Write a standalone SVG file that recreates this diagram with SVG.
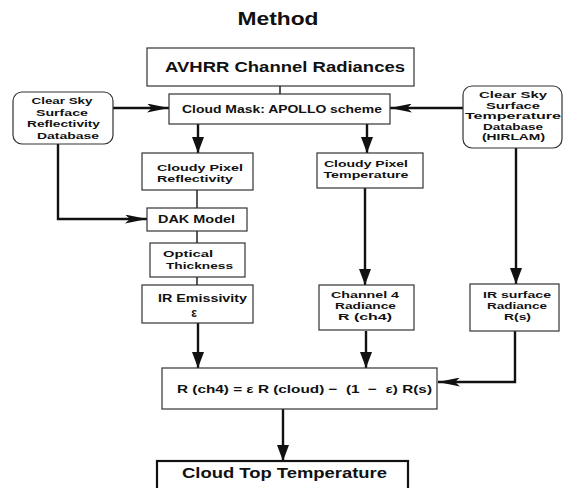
<svg xmlns="http://www.w3.org/2000/svg" width="564" height="488" viewBox="0 0 564 488">
  <defs>
    <style>
      text { font-family: "Liberation Sans", Arial, sans-serif; font-weight: bold; fill: #111; }
      .c { text-anchor: middle; }
      .box { fill: #fff; stroke: #333; stroke-width: 1.2; }
      .thick { fill: #fff; stroke: #111; stroke-width: 2.2; }
      .s9 { font-size: 9px; }
      .s10 { font-size: 9.5px; }
      .s11 { font-size: 11px; }
      .wire { fill: none; stroke: #111; stroke-width: 2.4; }
      .thin { fill: none; stroke: #222; stroke-width: 1.5; }
      .arr-v { marker-end: url(#head-v); }
      .arr-h { marker-end: url(#head-h); }
    </style>
    <!-- broad head for the vertical flow arrows -->
    <marker id="head-v" markerUnits="userSpaceOnUse" markerWidth="17" markerHeight="12" refX="16" refY="6" orient="auto">
      <path d="M0,0 L16,6 L0,12 Z" fill="#111"/>
    </marker>
    <!-- slender head for the side inputs -->
    <marker id="head-h" markerUnits="userSpaceOnUse" markerWidth="23" markerHeight="9" refX="22" refY="4.5" orient="auto">
      <path d="M0,0 L22,4.5 L0,9 L5,4.5 Z" fill="#111"/>
    </marker>
  </defs>

  <rect width="564" height="488" fill="#fff"/>

  <text x="278" y="25" class="c" font-size="18" textLength="81" lengthAdjust="spacingAndGlyphs">Method</text>

  <g id="connectors">
    <line x1="280" y1="86" x2="280" y2="94" class="thin"/>
    <line x1="113" y1="108" x2="169" y2="108" class="wire arr-h" stroke-width="2"/>
    <line x1="463" y1="108" x2="390" y2="108" class="wire arr-h" stroke-width="2"/>
    <line x1="198" y1="124" x2="198" y2="153" class="wire arr-v"/>
    <line x1="367" y1="124" x2="367" y2="153" class="wire arr-v"/>
    <line x1="197" y1="190" x2="197" y2="208" class="thin"/>
    <path d="M58,144 V219 H147" class="wire arr-h"/>
    <line x1="197" y1="231" x2="197" y2="243" class="thin"/>
    <line x1="197" y1="277" x2="197" y2="285" class="thin"/>
    <line x1="198" y1="323" x2="198" y2="368" class="wire arr-v"/>
    <line x1="365" y1="188" x2="365" y2="285" class="wire arr-v"/>
    <line x1="516" y1="148" x2="516" y2="284" class="wire arr-v"/>
    <line x1="366" y1="331" x2="366" y2="368" class="wire arr-v"/>
    <path d="M515,331 V382 H438" class="wire arr-h"/>
    <line x1="283" y1="409" x2="283" y2="461" class="wire arr-v"/>
  </g>

  <g id="avhrr">
    <rect x="147" y="48" width="267" height="38" class="box"/>
    <text x="285" y="72" class="c" font-size="14.5" textLength="240" lengthAdjust="spacingAndGlyphs">AVHRR Channel Radiances</text>
  </g>

  <g id="cloud-mask">
    <rect x="169" y="94" width="221" height="30" class="box"/>
    <text x="282" y="113" class="c s11" textLength="200" lengthAdjust="spacingAndGlyphs">Cloud Mask: APOLLO scheme</text>
  </g>

  <g id="reflectivity-db">
    <rect x="13" y="92" width="100" height="52" rx="9" class="box"/>
    <text x="62" y="104" class="c s9" textLength="61" lengthAdjust="spacingAndGlyphs">Clear Sky</text>
    <text x="62" y="115.5" class="c s9" textLength="52" lengthAdjust="spacingAndGlyphs">Surface</text>
    <text x="63.5" y="127" class="c s9" textLength="73" lengthAdjust="spacingAndGlyphs">Reflectivity</text>
    <text x="68" y="138.5" class="c s9" textLength="62" lengthAdjust="spacingAndGlyphs">Database</text>
  </g>

  <g id="temperature-db">
    <rect x="463" y="86" width="99" height="62" rx="9" class="box"/>
    <text x="513" y="98" class="c s9" textLength="68" lengthAdjust="spacingAndGlyphs">Clear Sky</text>
    <text x="513" y="108.5" class="c s9" textLength="54" lengthAdjust="spacingAndGlyphs">Surface</text>
    <text x="513" y="119" class="c s9" textLength="96" lengthAdjust="spacingAndGlyphs">Temperature</text>
    <text x="513" y="129.5" class="c s9" textLength="60" lengthAdjust="spacingAndGlyphs">Database</text>
    <text x="513.5" y="140" class="c s9" textLength="63" lengthAdjust="spacingAndGlyphs">(HIRLAM)</text>
  </g>

  <g id="cloudy-reflectivity">
    <rect x="142" y="153" width="111" height="37" class="box"/>
    <text x="200" y="171" class="c s10" textLength="86" lengthAdjust="spacingAndGlyphs">Cloudy Pixel</text>
    <text x="195" y="182" class="c s10" textLength="76" lengthAdjust="spacingAndGlyphs">Reflectivity</text>
  </g>

  <g id="cloudy-temperature">
    <rect x="317" y="153" width="106" height="35" class="box"/>
    <text x="366" y="167" class="c s10" textLength="84" lengthAdjust="spacingAndGlyphs">Cloudy Pixel</text>
    <text x="366" y="178" class="c s10" textLength="85" lengthAdjust="spacingAndGlyphs">Temperature</text>
  </g>

  <g id="dak-model">
    <rect x="147" y="208" width="100" height="23" class="box"/>
    <text x="196.5" y="223" class="c s11" textLength="77" lengthAdjust="spacingAndGlyphs">DAK Model</text>
  </g>

  <g id="optical-thickness">
    <rect x="150" y="243" width="95" height="34" class="box"/>
    <text x="188" y="257" class="c s10" textLength="50" lengthAdjust="spacingAndGlyphs">Optical</text>
    <text x="199.5" y="269" class="c s10" textLength="67" lengthAdjust="spacingAndGlyphs">Thickness</text>
  </g>

  <g id="ir-emissivity">
    <rect x="142" y="285" width="111" height="38" class="box"/>
    <text x="202.5" y="302" class="c s11" textLength="89" lengthAdjust="spacingAndGlyphs">IR Emissivity</text>
    <text x="194" y="317" class="c" font-size="12" font-weight="normal">ε</text>
  </g>

  <g id="channel4-radiance">
    <rect x="319" y="285" width="95" height="45" class="box"/>
    <text x="365" y="298" class="c s10" textLength="68" lengthAdjust="spacingAndGlyphs">Channel 4</text>
    <text x="365.5" y="309" class="c s10" textLength="61" lengthAdjust="spacingAndGlyphs">Radiance</text>
    <text x="365" y="320" class="c s10" textLength="54" lengthAdjust="spacingAndGlyphs">R (ch4)</text>
  </g>

  <g id="surface-radiance">
    <rect x="470" y="284" width="89" height="47" class="box"/>
    <text x="517" y="298" class="c s10" textLength="68" lengthAdjust="spacingAndGlyphs">IR surface</text>
    <text x="517" y="309" class="c s10" textLength="60" lengthAdjust="spacingAndGlyphs">Radiance</text>
    <text x="517.5" y="320" class="c s10" textLength="27" lengthAdjust="spacingAndGlyphs">R(s)</text>
  </g>

  <g id="radiance-equation">
    <rect x="162" y="368" width="275" height="41" class="box"/>
    <text x="177" y="393" font-size="11.5" textLength="255" lengthAdjust="spacingAndGlyphs" xml:space="preserve">R (ch4) = ε R (cloud) −  (1  −  ε) R(s)</text>
  </g>

  <g id="cloud-top-temperature">
    <rect x="157" y="461" width="251" height="34" class="thick"/>
    <text x="284.5" y="478" class="c" font-size="14" textLength="205" lengthAdjust="spacingAndGlyphs">Cloud Top Temperature</text>
  </g>
</svg>
